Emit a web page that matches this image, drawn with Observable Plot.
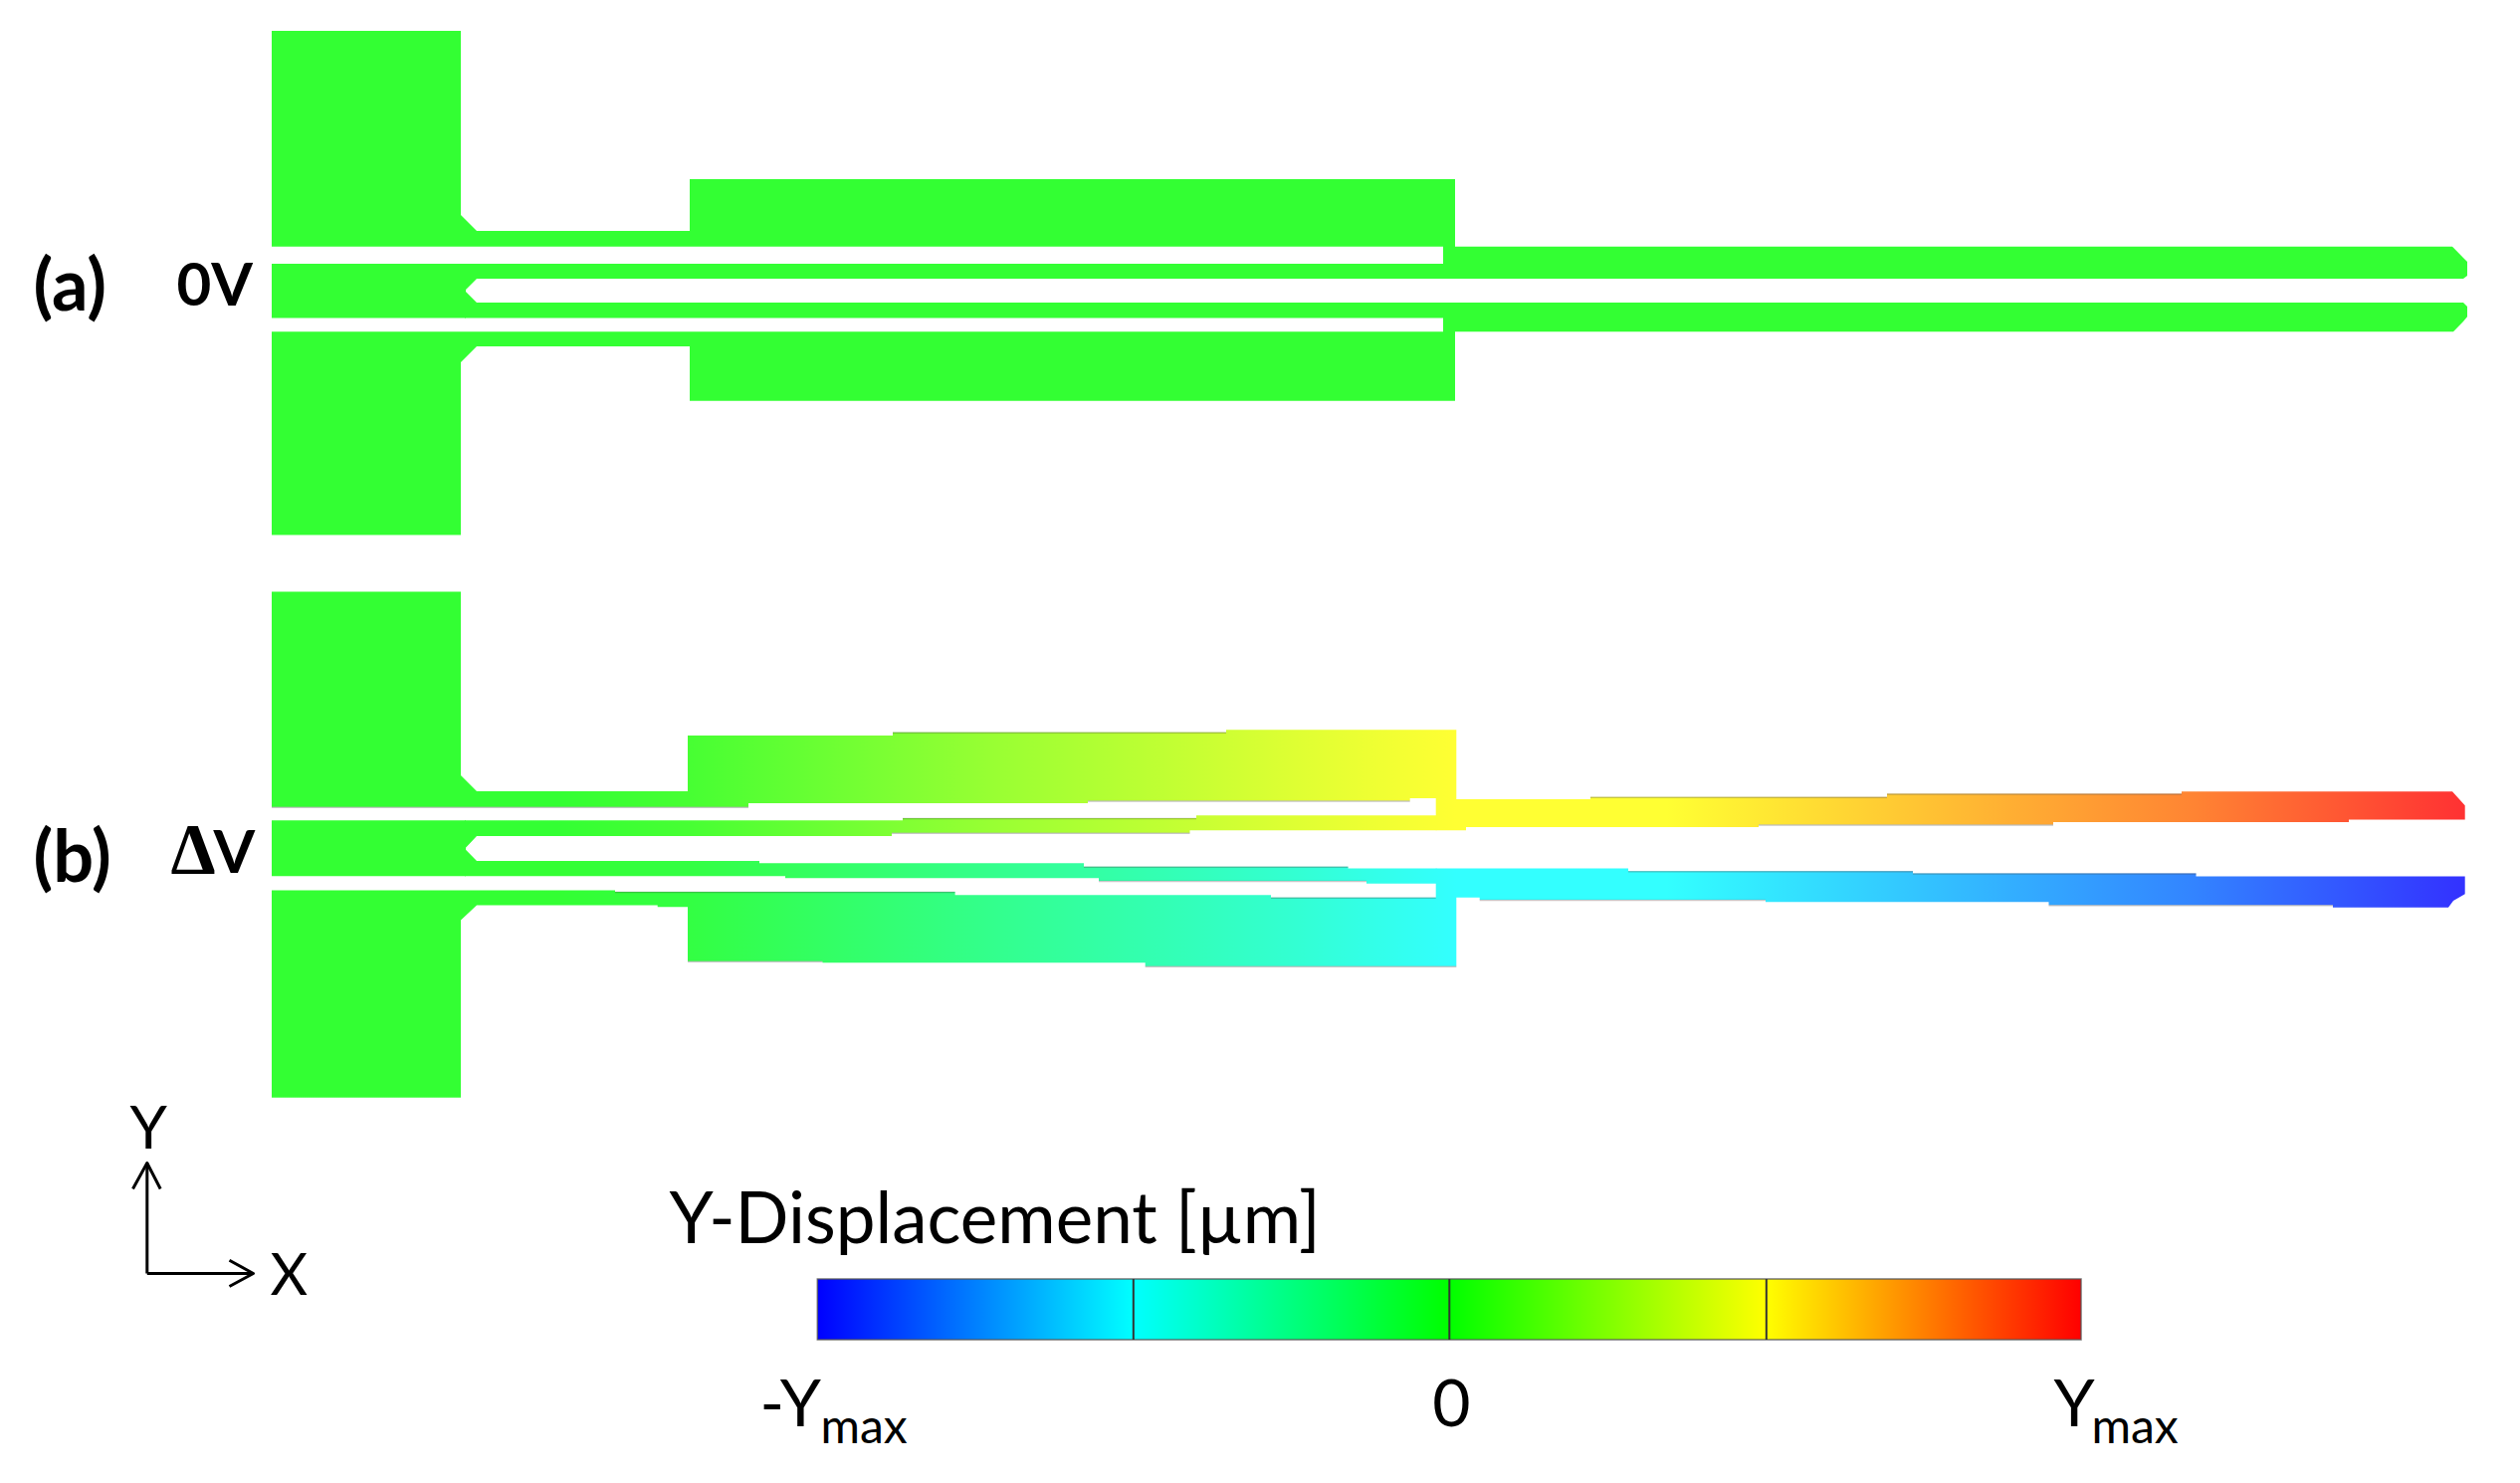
<!DOCTYPE html>
<html>
<head>
<meta charset="utf-8">
<script src="https://cdn.jsdelivr.net/npm/d3@7"></script>
<script src="https://cdn.jsdelivr.net/npm/@observablehq/plot@0.6"></script>
<style>
html,body{margin:0;padding:0;background:#fff}
svg{display:block}
</style>
</head>
<body>
<div id="chart"></div>
<script>
// Layout outlines: rows of [x, upper edge, lower edge]
const zeroUpper = [[273,31,247.7],[463,31,247.7],[463,216,247.7],[479,232,247.7],[693,232,247.7],[693,180,247.7],[1450,180,247.7],[1450,180,280],[1462,180,280],[1462,247.7,280],[2464,247.7,280],[2475,259,280],[2479,263,277]];
const zeroBlock = [[273,265,319.6],[468,265,319.6]];
const zeroFingerTop = [[467,265,292],[479,265,280],[1451,265,280]];
const zeroFingerBottom = [[467,292,319.6],[479,304,319.6],[1451,304,319.6]];
const zeroLower = [[273,333.3,537.5],[463,333.3,537.5],[463,333.3,364],[479,333.3,348],[693,333.3,348],[693,333.3,402.7],[1450,333.3,402.7],[1450,304,402.7],[1462,304,402.7],[1462,304,333.3],[2465,304,333.3],[2475,304,323],[2479,308,318.3]];

const bentUpper = [[273,594.5,810.7],[463,594.5,810.7],[463,779,810.7],[479,795,810.7],[691,795,810.7],[691,739,810.7],[752,739,810.7],[752,739,807],[897,739,807],[897,735.7,807],[1093,735.7,807],[1093,735.7,804.5],[1232,735.7,804.5],[1232,733.3,804.5],[1416.7,733.3,804.5],[1416.7,733.3,802],[1442.7,733.3,802],[1442.7,733.3,834.3],[1463.3,733.3,834.3],[1463.3,803,834.3],[1473,803,834.3],[1473,803,831],[1598,803,831],[1598,800.7,831],[1767,800.7,831],[1767,800.7,828.5],[1896,800.7,828.5],[1896,797.5,828.5],[2063,797.5,828.5],[2063,797.5,826],[2192,797.5,826],[2192,795.3,826],[2360,795.3,826],[2360,795.3,823.5],[2464,795.3,823.5],[2476.7,809.3,823.5]];
const bentBlock = [[273,824.3,880.3],[468,824.3,880.3]];
const bentFingerTop = [[467,824.3,852.7],[479,824.3,840],[896,824.3,840],[896,824.3,836.7],[907,824.3,836.7],[907,822,836.7],[1195.5,822,836.7],[1195.5,822,834.3],[1202,822,834.3],[1202,819.3,834.3],[1443.5,819.3,834.3]];
const bentFingerBottom = [[467,852.7,880.3],[479,865,880.3],[763,865,880.3],[763,867.3,880.3],[789,867.3,880.3],[789,867.3,882.3],[1089,867.3,882.3],[1089,870.7,882.3],[1104,870.7,882.3],[1104,870.7,885],[1354.5,870.7,885],[1354.5,872.5,885],[1373,872.5,885],[1373,872.5,887.7],[1443.5,872.5,887.7]];
const bentLower = [[273,894.4,1102.7],[463,894.4,1102.7],[463,894.4,924.4],[479,894.4,909.5],[618,894.4,909.5],[618,896,909.5],[660.7,896,909.5],[660.7,896,911.3],[691,896,911.3],[691,896,965.7],[826.4,896,965.7],[826.4,896,967.3],[959.6,896,967.3],[959.6,899.3,967.3],[1150.7,899.3,967.3],[1150.7,899.3,970.7],[1277,899.3,970.7],[1277,901.7,970.7],[1442.7,901.7,970.7],[1442.7,872.5,970.7],[1463.3,872.5,970.7],[1463.3,872.5,901.7],[1486.7,872.5,901.7],[1486.7,872.5,904],[1636,872.5,904],[1636,875.2,904],[1774,875.2,904],[1774,875.2,906.2],[1922,875.2,906.2],[1922,877.5,906.2],[2058.5,877.5,906.2],[2058.5,877.5,909.2],[2206.5,877.5,909.2],[2206.5,880.5,909.2],[2344,880.5,909.2],[2344,880.5,911.7],[2460,880.5,911.7],[2465,880.5,905],[2476.7,880.5,898.3]];

// Faint shaded edges of the deformed mesh: [x from, x to, y]
const shadedEdges = [[273,752,810.7],[897,1232,735.7],[1093,1416.7,804.5],[907,1202,822],[896,1195.5,836.7],[1089,1354.5,870.7],[1104,1373,885],[618,959.6,896],[1277,1442.7,901.7],[691,826.4,965.7],[1150.7,1463.3,970.7],[1598,1896,800.7],[1896,2192,797.5],[1767,2063,828.5],[1636,1922,875.2],[1922,2206.5,877.5],[1486.7,1774,904],[2058.5,2344,909.2]];

// Displacement along the device, as a fraction of Ymax
const sampleX = [273, 560, 693, 1000, 1300, 1463, 1675, 2200, 2470];
const upperDisp = [0, 0, 0.05, 0.25, 0.42, 0.5, 0.5, 0.8, 1];
const lowerDisp = [0, 0, -0.04, -0.22, -0.39, -0.5, -0.5, -0.8, -1];

// Colour bar
const barEdges = [821.3, 1138.3, 1455.8, 1774.3, 2091];
const barValues = [-1, -0.5, 0, 0.5, 1];
const barColors = ["#0000ff", "#00ffff", "#00ff00", "#ffff00", "#ff0000"];
const tintColors = ["#3333ff", "#33ffff", "#33ff33", "#ffff33", "#ff3333"];

// Axes glyph
const axisArrows = [
  [[147.3,1279],[147.3,1168]],
  [[133,1194],[147.3,1168],[160.7,1194]],
  [[147.3,1279],[254,1279]],
  [[230,1265.7],[254,1279],[230,1292]]
];

const tint = d3.scaleLinear().domain(barValues).range(tintColors);

function gradient(id, xs, colors) {
  return (index, {x}) => {
    const defs = d3.create("svg:defs");
    const g = defs.append("linearGradient").attr("id", id)
      .attr("gradientUnits", "userSpaceOnUse")
      .attr("x1", x(xs[0])).attr("x2", x(xs[xs.length-1])).attr("y1", 0).attr("y2", 0);
    xs.forEach((v, i) => g.append("stop")
      .attr("offset", (v - xs[0]) / (xs[xs.length-1] - xs[0]))
      .attr("stop-color", colors[i]));
    return defs.node();
  };
}
const piece = (rows, fill) => Plot.areaY(rows, {x: d => d[0], y1: d => d[1], y2: d => d[2], fill});
const label = (t, x, y, size, opts = {}) => Plot.text([t], {x: [x], y: [y], text: d => d, fontSize: size, textAnchor: "start", lineAnchor: "bottom", fill: "#000", fontFamily: "Lato", ...opts});

const plot = Plot.plot({
  width: 2532, height: 1490,
  marginTop: 0, marginRight: 0, marginBottom: 0, marginLeft: 0,
  x: {domain: [0, 2532], range: [0, 2532], axis: null},
  y: {domain: [0, 1490], range: [0, 1490], axis: null},
  style: {background: "#fff", fontFamily: "Lato"},
  marks: [
    gradient("upperGrad", sampleX, upperDisp.map(tint)),
    gradient("lowerGrad", sampleX, lowerDisp.map(tint)),
    gradient("barGrad", barEdges, barColors),
    ...[zeroUpper, zeroBlock, zeroFingerTop, zeroFingerBottom, zeroLower].map(r => piece(r, "#33ff33")),
    piece(bentUpper, "url(#upperGrad)"),
    piece(bentFingerTop, "url(#upperGrad)"),
    piece(bentFingerBottom, "url(#lowerGrad)"),
    piece(bentBlock, "#33ff33"),
    piece(bentLower, "url(#lowerGrad)"),
    Plot.ruleY(shadedEdges, {x1: d => d[0], x2: d => d[1], y: d => d[2], stroke: "#444", strokeOpacity: 0.3, strokeWidth: 1.5}),
    // colour bar
    Plot.rect([barEdges], {x1: d => d[0], x2: d => d[4], y1: () => 1285, y2: () => 1346, fill: "url(#barGrad)", stroke: "#555", strokeWidth: 1.5, strokeOpacity: 0.8}),
    Plot.ruleX(barEdges.slice(1, 4), {y1: 1285, y2: 1346, stroke: "#333", strokeWidth: 2}),
    // axes glyph
    ...axisArrows.map(a => Plot.line(a, {x: d => d[0], y: d => d[1], stroke: "#000", strokeWidth: 3, strokeLinecap: "butt"})),
    // labels
    label("(a)", 33, 311, 72, {fontWeight: 700}),
    label("0V", 177, 306, 60, {fontWeight: 700}),
    label("(b)", 33, 885, 72, {fontWeight: 700}),
    label("Δ", 171, 876, 72, {fontWeight: 700, fontFamily: "Liberation Serif"}),
    label("V", 214, 876, 60, {fontWeight: 700}),
    label("Y", 130, 1153, 60),
    label("X", 271, 1300, 58),
    label("Y-Displacement [µm]", 672, 1248, 71),
    label("-Y", 763, 1432, 66),
    label("max", 824, 1449, 48),
    label("0", 1458, 1432, 66, {textAnchor: "middle"}),
    label("Y", 2063, 1432, 66),
    label("max", 2101, 1449, 48)
  ]
});
document.getElementById("chart").append(plot);
</script>
</body>
</html>
